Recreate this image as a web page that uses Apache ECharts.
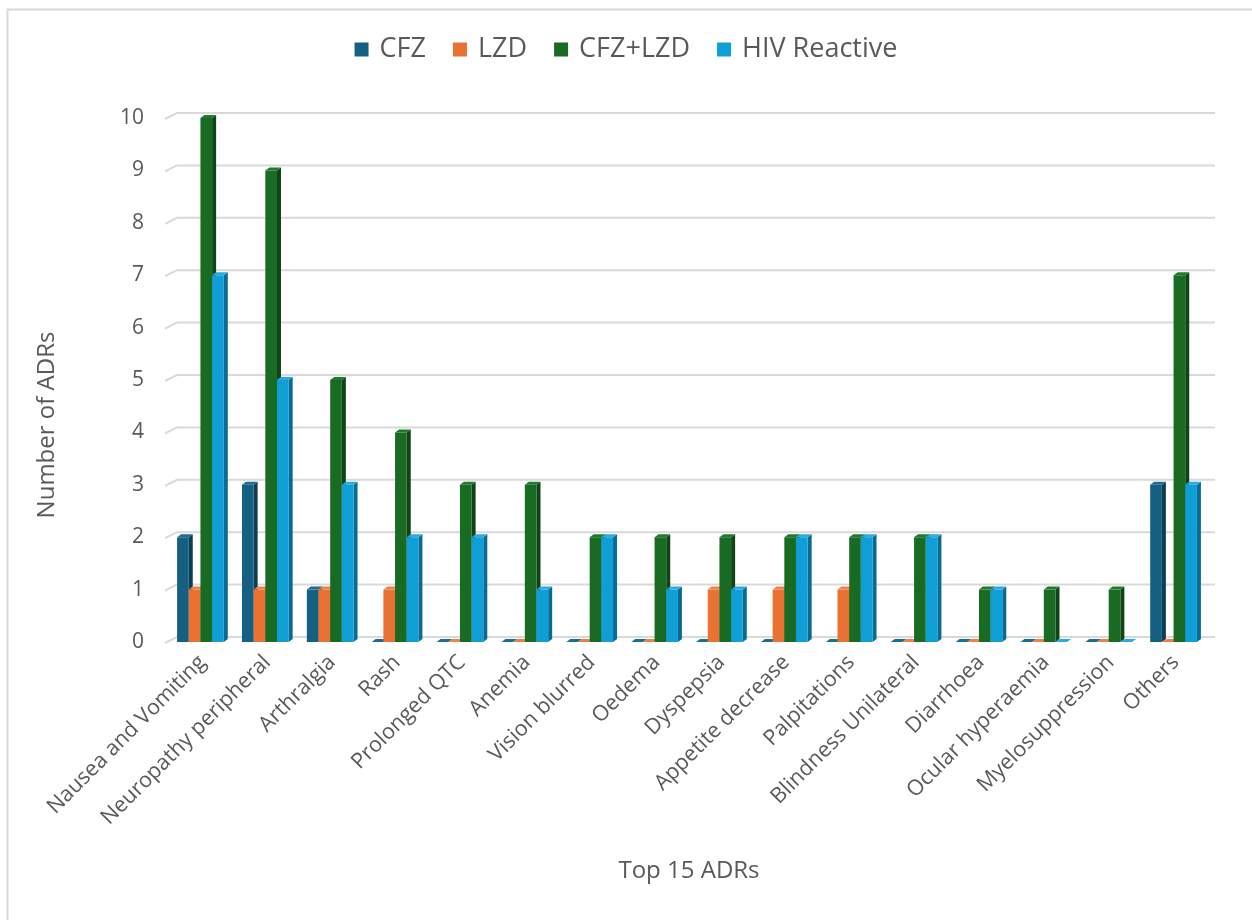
<!DOCTYPE html>
<html>
<head>
<meta charset="utf-8">
<script src="https://cdn.jsdelivr.net/npm/echarts@6/dist/echarts.min.js"></script>
<style>
html,body{margin:0;padding:0;background:#fff;}
#chart{width:1252px;height:920px;}
</style>
</head>
<body>
<div id="chart"></div>
<script>
const categories = ['Nausea and Vomiting','Neuropathy peripheral','Arthralgia','Rash','Prolonged QTC','Anemia','Vision blurred','Oedema','Dyspepsia','Appetite decrease','Palpitations','Blindness Unilateral','Diarrhoea','Ocular hyperaemia','Myelosuppression','Others'];
const seriesNames = ['CFZ','LZD','CFZ+LZD','HIV Reactive'];
const cfz     = [2,3,1,0,0,0,0,0,0,0,0,0,0,0,0,3];
const lzd     = [1,1,1,1,0,0,0,0,1,1,1,0,0,0,0,0];
const cfzLzd  = [10,9,5,4,3,3,2,2,2,2,2,2,1,1,1,7];
const hiv     = [7,5,3,2,2,1,2,1,1,2,2,2,1,0,0,3];
const yTicks  = [0,1,2,3,4,5,6,7,8,9,10];

const seriesData = [cfz, lzd, cfzLzd, hiv];
const frontColors = ['#156082','#E97132','#196B24','#0F9ED5'];
const sideColors  = ['#0d3e55','#a84f20','#0f4416','#0a6b92'];
const topColors   = ['#1a6d93','#ee8147','#1f7a2b','#2aaae0'];

const textColor = '#595959';
const FONT = '"Open Sans", "Noto Sans", sans-serif';

const DX = 4, DY = 3; // bar depth
const GDX = 12, GDY = 6; // back wall offset for gridlines

function barRender(si){
  return function(params, api){
    const ci = api.value(0);
    const v = api.value(1);
    const base = api.coord([ci, 0]);
    const topPt = api.coord([ci, v]);
    const band = api.size([1, 0])[0];
    const w = band * 0.18;
    const groupW = 4*w + DX;
    const x0 = base[0] - groupW/2 + si*w;
    const x1 = x0 + w;
    const yb = base[1];
    const yt = topPt[1];
    return {
      type:'group',
      children:[
        {type:'polygon', shape:{points:[[x1,yb],[x1+DX,yb-DY],[x1+DX,yt-DY],[x1,yt]]}, style:{fill:sideColors[si]}},
        {type:'polygon', shape:{points:[[x0,yt],[x0+DX,yt-DY],[x1+DX,yt-DY],[x1,yt]]}, style:{fill:topColors[si]}},
        {type:'rect', shape:{x:x0, y:yt, width:w, height:Math.max(0,yb-yt)}, style:{fill:frontColors[si]}}
      ]
    };
  };
}

function gridRender(params, api){
  const v = api.value(0);
  const cs = params.coordSys;
  const y = api.coord([0, v])[1];
  const xl = cs.x - 5;
  const xr = cs.x + cs.width + 7;
  return {
    type:'polyline',
    shape:{points:[[xl, y+1],[xl+GDX, y+1-GDY],[xr, y+1-GDY]]},
    style:{stroke:'#d9d9d9', lineWidth:2, fill:null}
  };
}

const series = [{
  type:'custom',
  name:'grid',
  renderItem: gridRender,
  data: yTicks.map(v => [v]),
  encode:{y:0},
  silent:true,
  z:1
}];
seriesData.forEach((arr, si) => {
  series.push({
    type:'custom',
    name: seriesNames[si],
    itemStyle:{color: frontColors[si]},
    renderItem: barRender(si),
    data: arr.map((v,i)=>[i,v]),
    encode:{x:0, y:1},
    z: 2 + si
  });
});

const chart = echarts.init(document.getElementById('chart'));
chart.setOption({
  animation:false,
  backgroundColor:'#fff',
  textStyle:{fontFamily:FONT},
  legend:{
    data: seriesNames,
    top: 31,
    left: 'center',
    itemWidth: 14,
    itemHeight: 14,
    itemGap: 27,
    icon: 'rect',
    textStyle:{color:textColor, fontSize:27, fontFamily:FONT, padding:[0,0,0,6]}
  },
  grid:{left:170, right:44, top:118, bottom:278, containLabel:false},
  xAxis:{
    type:'category',
    data: categories,
    axisLine:{show:false},
    axisTick:{show:false},
    splitLine:{show:false},
    axisLabel:{rotate:45, interval:0, color:textColor, fontSize:21.5, margin:17, fontFamily:FONT},
    name:'Top 15 ADRs',
    nameLocation:'middle',
    nameGap:217,
    nameTextStyle:{color:textColor, fontSize:24, fontFamily:FONT}
  },
  yAxis:{
    type:'value',
    min:0, max:10, interval:1,
    axisLine:{show:false},
    axisTick:{show:false},
    splitLine:{show:false},
    axisLabel:{color:textColor, fontSize:21, margin:26, fontFamily:FONT}
  },
  graphic:[
    {type:'rect', left:5, top:7, shape:{width:1300, height:1000}, style:{fill:null, stroke:'#d9d9d9', lineWidth:2}, silent:true, z:-10},
    {type:'text', x:47, y:425, rotation:Math.PI/2, style:{text:'Number of ADRs', fill:textColor, fontSize:24, fontFamily:FONT, textAlign:'center', textVerticalAlign:'middle'}}
  ],
  series: series
});
</script>
</body>
</html>
